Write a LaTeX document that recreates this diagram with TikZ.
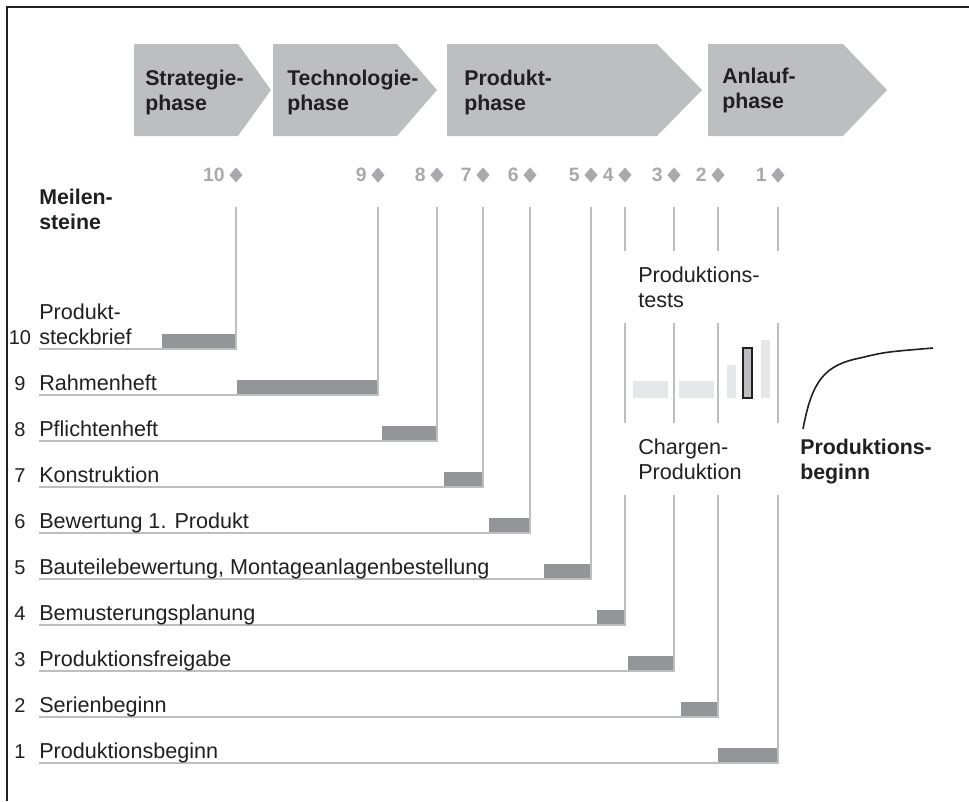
\documentclass[tikz,border=0pt]{standalone}
\usepackage{fontspec}
\setmainfont{Liberation Sans}
\usetikzlibrary{shapes.geometric,positioning}

\definecolor{phasegray}{HTML}{BCBEC0}
\definecolor{bargray}{HTML}{939598}
\definecolor{msgray}{HTML}{A7A9AC}
\definecolor{palegray}{HTML}{E6E7E8}
\definecolor{ink}{HTML}{231F20}

\tikzset{
  phase/.style={fill=phasegray},
  phasetext/.style={anchor=base west, align=left, inner sep=0pt, text=ink,
    font=\fontsize{16}{18.75}\selectfont\bfseries},
  msnum/.style={anchor=east, inner sep=0pt, text=msgray,
    font=\fontsize{14.5}{16}\selectfont\bfseries},
  msdiamond/.style={shape=diamond, fill=msgray, inner sep=0pt,
    minimum width=10pt, minimum height=11.5pt},
  rule/.style={draw=phasegray, line width=1.3pt},
  rowlabel/.style={anchor=base west, align=left, inner sep=0pt, text=ink,
    font=\fontsize{16.2}{18.75}\selectfont},
  rownum/.style={anchor=base, inner sep=0pt, text=ink,
    font=\fontsize{15}{18}\selectfont},
  task/.style={fill=bargray},
}

\begin{document}
\begin{tikzpicture}[x=0.75pt, y=-0.75pt]
\useasboundingbox (0,0) rectangle (969,801);

% frame
\draw[ink, line width=1.5pt] (7,801) -- (7,7) -- (969,7);

% phases
\foreach \a/\b/\c in {134/238/271, 273/397/437, 447/657/702, 708/843/887}
  \fill[phase] (\a,44) -- (\b,44) -- (\c,90) -- (\b,136) -- (\a,136) -- cycle;
\node[phasetext] (strat) at (145,110) {Strategie-\\phase};
\node[phasetext] (tech) at (287,110) {Technologie-\\phase};
\node[phasetext] (prod) at (464,110) {Produkt-\\phase};
\node[phasetext] (anl) at (722,108) {Anlauf-\\phase};

\node[phasetext] (meil) at (39,229) {Meilen-\\steine};

% milestones and rows
\foreach \n/\mx/\bx/\txt in {10/236/162/{Produkt-\\steckbrief}, 9/378/237/Rahmenheft,
    8/437/382/Pflichtenheft, 7/483/444/Konstruktion, 6/530/489/{Bewertung 1. Produkt},
    5/591/544/{Bauteilebewertung, Montageanlagenbestellung}, 4/625/597/Bemusterungsplanung,
    3/674/628/Produktionsfreigabe, 2/718/681/Serienbeginn, 1/778/718/Produktionsbeginn}{
  \pgfmathsetmacro\ry{349+46*(10-\n)}
  \node[msdiamond] (d\n) at (\mx,175) {};
  \node[msnum] (n\n) at (\mx-11,175) {\n};
  \coordinate (t\n) at (\mx,207);
  \coordinate (r\n) at (39,\ry);
  \fill[task] (\bx,\ry-15) rectangle (\mx,\ry);
  \draw[rule] (r\n) -| (t\n);
  \node[rownum] (k\n) at (20,\ry-5) {\n};
  \node[rowlabel] (l\n) at (39,\ry-5) {\txt};
}

% production tests
\fill[white] (619,251) rectangle (785,323);
\fill[white] (619,423) rectangle (785,495);
\node[rowlabel] (ptest) at (638,307) {Produktions-\\tests};
\node[rowlabel] (charg) at (638,479) {Chargen-\\Produktion};
\fill[palegray] (633,381) rectangle (668,398);
\fill[palegray] (679,381) rectangle (714,398);
\fill[palegray] (727,365) rectangle (736,398);
\filldraw[fill=phasegray, draw=ink, line width=1.2pt] (743,348) rectangle (752,398);
\fill[palegray] (761,340) rectangle (770,398);

% ramp-up curve
\coordinate (c0) at (803,429);
\coordinate (c1) at (933,348);
\draw[ink, line width=1.2pt] (c0) .. controls (812,380) and (825,365) .. (860,358)
  .. controls (885,352) .. (c1);
\node[phasetext] (pbeg) at (800,479) {Produktions-\\beginn};
\end{tikzpicture}
\end{document}
